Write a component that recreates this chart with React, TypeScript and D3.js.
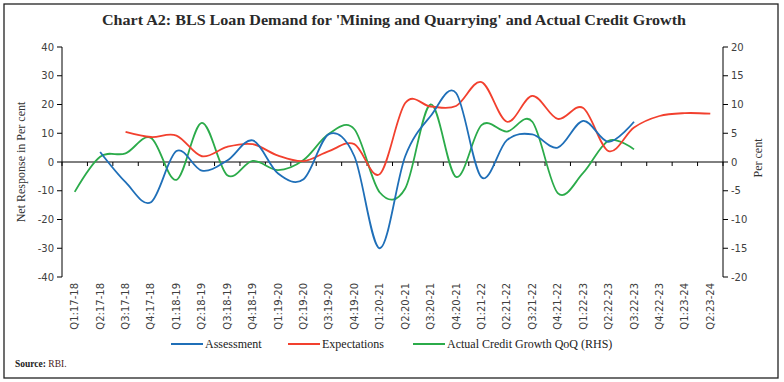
import React from 'react';
import * as d3 from 'd3';

const categories = ['Q1:17-18','Q2:17-18','Q3:17-18','Q4:17-18','Q1:18-19','Q2:18-19','Q3:18-19','Q4:18-19','Q1:19-20','Q2:19-20','Q3:19-20','Q4:19-20','Q1:20-21','Q2:20-21','Q3:20-21','Q4:20-21','Q1:21-22','Q2:21-22','Q3:21-22','Q4:21-22','Q1:22-23','Q2:22-23','Q3:22-23','Q4:22-23','Q1:23-24','Q2:23-24'];

const assessment: (number | null)[] = [null, 3.5, -7, -14, 3.8, -3, 0.5, 7.5, -4, -6, 9.7, 2, -30, 2, 16, 24, -5.3, 7.6, 9.6, 5, 14.3, 7, 14, null, null, null];
const expectations: (number | null)[] = [null, null, 10.5, 8.7, 9.2, 2, 5.3, 6.2, 2.2, 0.3, 3.8, 6.2, -4.2, 20.5, 19.3, 19.5, 27.8, 14, 23, 15, 18.8, 3.8, 12, 16, 17, 16.8];
const creditGrowth: (number | null)[] = [-5.2, 0.9, 1.5, 4.2, -3.1, 6.8, -2.3, 0.2, -1.4, 0.35, 4.9, 5.7, -5.3, -4.6, 10, -2.6, 6.4, 5.3, 7, -5.4, -1.9, 3.7, 2.2, null, null, null];

const leftTicks = [40, 30, 20, 10, 0, -10, -20, -30, -40];
const rightTicks = [20, 15, 10, 5, 0, -5, -10, -15, -20];

const W = 784, H = 382;
const plotL = 62, plotR = 723, plotT = 47, plotB = 277;

const BLUE = '#1f6fb8';
const RED = '#f2402e';
const GREEN = '#2bab4a';

export default function App() {
  const x = d3.scaleBand<string>().domain(categories).range([plotL, plotR]).paddingInner(0).paddingOuter(0);
  const yL = d3.scaleLinear().domain([-40, 40]).range([plotB, plotT]);
  const yR = d3.scaleLinear().domain([-20, 20]).range([plotB, plotT]);
  const cx = (i: number) => (x(categories[i]) as number) + x.bandwidth() / 2;

  const mkPath = (vals: (number | null)[], y: d3.ScaleLinear<number, number>) => {
    const pts = vals.map((v, i) => (v == null ? null : [cx(i), y(v)] as [number, number])).filter(Boolean) as [number, number][];
    return d3.line().curve(d3.curveCardinal.tension(0))(pts) || '';
  };

  const zeroY = yL(0);
  const boundaries = d3.range(categories.length + 1).map(i => plotL + i * x.bandwidth());
  const tickFont = "'DejaVu Sans', Verdana, sans-serif";
  const serif = "'Liberation Serif', 'DejaVu Serif', serif";

  return (
    <svg width={W} height={H} style={{ position: 'absolute', left: 0, top: 0, background: '#fff' }}>
      <rect x={4} y={4} width={774} height={374} fill="none" stroke="#222" strokeWidth={1.3} />
      <text x={394} y={25} textAnchor="middle" fontFamily={serif} fontWeight={700} fontSize={15.5} fill="#2a2a2a" textLength={584} lengthAdjust="spacingAndGlyphs">
        Chart A2: BLS Loan Demand for 'Mining and Quarrying' and Actual Credit Growth
      </text>

      {/* left axis */}
      <line x1={plotL} x2={plotL} y1={plotT} y2={plotB} stroke="#000" strokeWidth={1} />
      {leftTicks.map(t => (
        <g key={'l' + t}>
          <line x1={plotL - 5} x2={plotL} y1={yL(t)} y2={yL(t)} stroke="#000" />
          <text x={plotL - 8} y={yL(t) + 3.5} textAnchor="end" fontFamily={tickFont} fontSize={10} fill="#404040">{t}</text>
        </g>
      ))}
      <text transform={`translate(25,${(plotT + plotB) / 2}) rotate(-90)`} textAnchor="middle" fontFamily={serif} fontSize={12} fill="#333">Net Response in Per cent</text>

      {/* right axis */}
      <line x1={plotR} x2={plotR} y1={plotT} y2={plotB} stroke="#000" strokeWidth={1} />
      {rightTicks.map(t => (
        <g key={'r' + t}>
          <line x1={plotR} x2={plotR + 5} y1={yR(t)} y2={yR(t)} stroke="#000" />
          <text x={plotR + 8} y={yR(t) + 3.5} textAnchor="start" fontFamily={tickFont} fontSize={10} fill="#404040">{t}</text>
        </g>
      ))}
      <text transform={`translate(762,${(plotT + plotB) / 2 - 4}) rotate(-90)`} textAnchor="middle" fontFamily={serif} fontSize={12} fill="#333">Per cent</text>

      {/* zero line with category ticks */}
      <line x1={plotL} x2={plotR} y1={zeroY} y2={zeroY} stroke="#000" strokeWidth={1} />
      {boundaries.map((b, i) => (
        <line key={'b' + i} x1={b} x2={b} y1={zeroY} y2={zeroY + 4} stroke="#000" />
      ))}

      {/* x labels */}
      {categories.map((c, i) => (
        <text key={c} transform={`translate(${cx(i) + 3.5},${plotB + 6}) rotate(-90)`} textAnchor="end" fontFamily={tickFont} fontSize={10} fill="#404040">{c}</text>
      ))}

      {/* series */}
      <path d={mkPath(creditGrowth, yR)} fill="none" stroke={GREEN} strokeWidth={1.8} />
      <path d={mkPath(expectations, yL)} fill="none" stroke={RED} strokeWidth={1.8} />
      <path d={mkPath(assessment, yL)} fill="none" stroke={BLUE} strokeWidth={1.8} />

      {/* legend */}
      <line x1={171} x2={203} y1={344} y2={344} stroke={BLUE} strokeWidth={2} />
      <text x={205} y={348} fontFamily={serif} fontSize={12} fill="#222">Assessment</text>
      <line x1={288} x2={320} y1={344} y2={344} stroke={RED} strokeWidth={2} />
      <text x={322} y={348} fontFamily={serif} fontSize={12} fill="#222">Expectations</text>
      <line x1={413} x2={445} y1={344} y2={344} stroke={GREEN} strokeWidth={2} />
      <text x={447} y={348} fontFamily={serif} fontSize={12} fill="#222">Actual Credit Growth QoQ (RHS)</text>

      {/* source */}
      <text x={15} y={367} fontFamily={serif} fontSize={9.5} fill="#222">
        <tspan fontWeight={700}>Source:</tspan>
        <tspan fill="#4a2020"> RBI.</tspan>
      </text>
    </svg>
  );
}
